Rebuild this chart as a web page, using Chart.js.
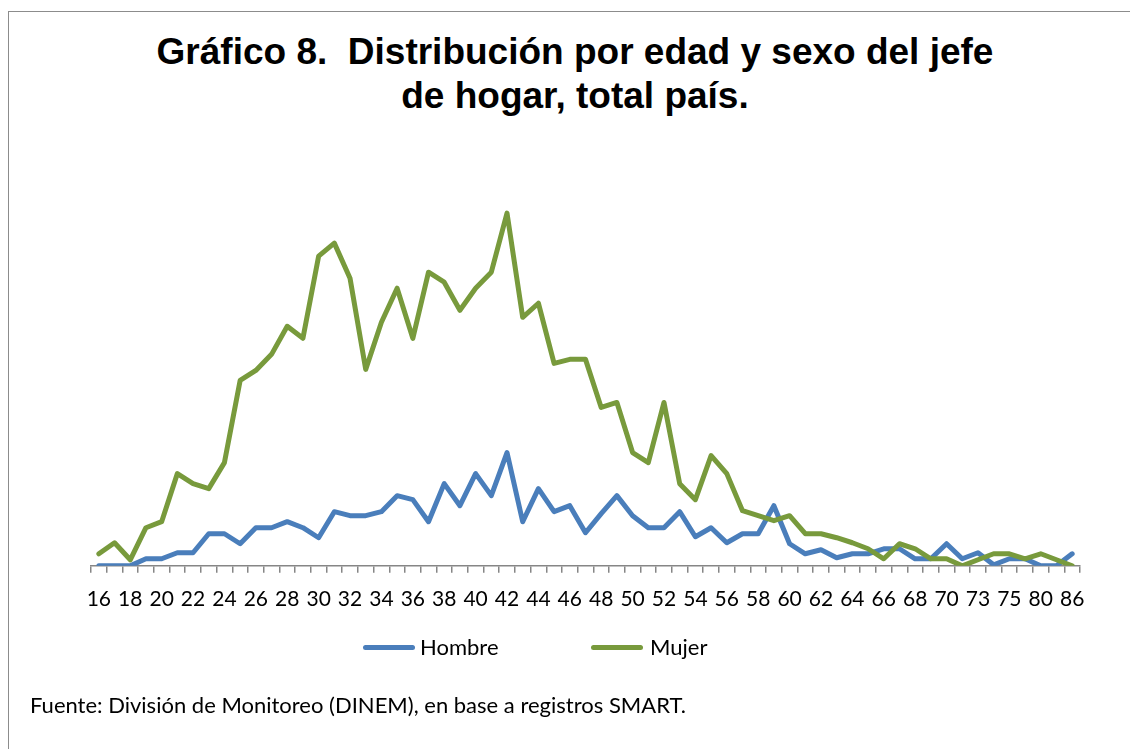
<!DOCTYPE html>
<html>
<head>
<meta charset="utf-8">
<script src="https://cdn.jsdelivr.net/npm/chart.js@4.4.1/dist/chart.umd.min.js"></script>
<style>
    body { margin: 0; background: #fff; width: 1130px; height: 749px; overflow: hidden; position: relative; }
    .frame { position: absolute; left: 8px; top: 11px; width: 1140px; height: 760px; border: 1.5px solid #8c8c8c; }
    .title { position: absolute; left: 0; top: 30px; width: 1150px; text-align: center; white-space: pre;
             font: bold 37px "Liberation Sans", Arial, sans-serif; line-height: 44px; color: #000; }
    #chart-box { position: absolute; left: 0; top: 0; width: 1130px; height: 749px; }
    .legend { position: absolute; top: 634px; left: 0; width: 1130px; height: 26px; font: 22px Lato, sans-serif; color: #000; }
    .legend span { position: absolute; top: 0; line-height: 26px; }
    .legend i { position: absolute; top: 11px; height: 5px; border-radius: 3px; }
    .source { position: absolute; left: 30px; top: 691px; font: 22px Lato, sans-serif; color: #000; }
</style>
</head>
<body>
<div class="frame"></div>
<div class="title">Gráfico 8.  Distribución por edad y sexo del jefe
de hogar, total país.</div>
<div id="chart-box"><canvas id="ageChart"></canvas></div>
<div class="legend" id="legend"></div>
<div class="source">Fuente: División de Monitoreo (DINEM), en base a registros SMART.</div>

<script>
// edades del jefe de hogar (eje X)
const ages = [16, 17, 18, 19, 20, 21, 22, 23, 24, 25, 26, 27, 28, 29, 30, 31, 32, 33, 34, 35,
    36, 37, 38, 39, 40, 41, 42, 43, 44, 45, 46, 47, 48, 49, 50, 51, 52, 53, 54, 55,
    56, 57, 58, 59, 60, 61, 62, 63, 64, 65, 66, 67, 68, 69, 70, 71, 73, 74, 75, 78, 80, 83, 86];

// valores (sin eje Y visible)
const hombre = [0, 0, 0, 7, 7, 13, 13, 32, 32, 22, 38, 38, 44, 38, 28, 54, 50, 50, 54, 70,
    66, 44, 82, 60, 92, 70, 113, 44, 77, 54, 60, 33, 52, 70, 50, 38, 38, 54, 29, 38,
    23, 32, 32, 60, 22, 12, 16, 8, 12, 12, 17, 17, 7, 7, 22, 7, 13, 1, 7, 7, 0, 0, 12];

const mujer = [12, 23, 6, 38, 44, 92, 82, 77, 103, 185, 195, 211, 239, 227, 309, 322, 287, 196, 243, 277,
    227, 293, 283, 255, 277, 293, 352, 248, 262, 202, 206, 206, 158, 163, 113, 103, 163, 82, 66, 110,
    92, 55, 50, 45, 50, 32, 32, 28, 23, 17, 7, 22, 17, 7, 7, 0, 6, 12, 12, 7, 12, 6, 0];

const seriesNames = ['Hombre', 'Mujer'];
const seriesColors = ['#4a7ebb', '#789a3c'];

// leyenda (posiciones como en el original)
const legendPos = [{ line: 363, text: 420 }, { line: 591, text: 650 }];
const legendEl = document.getElementById('legend');
seriesNames.forEach((name, i) => {
    legendEl.innerHTML += `<i style="left:${legendPos[i].line}px;width:52px;background:${seriesColors[i]}"></i>` +
        `<span style="left:${legendPos[i].text}px">${name}</span>`;
});

const ctx = document.getElementById('ageChart').getContext('2d');
new Chart(ctx, {
    type: 'line',
    data: {
        labels: ages,
        datasets: [
            { label: seriesNames[0], data: hombre, borderColor: seriesColors[0], backgroundColor: seriesColors[0], order: 1 },
            { label: seriesNames[1], data: mujer, borderColor: seriesColors[1], backgroundColor: seriesColors[1], order: 0 }
        ]
    },
    options: {
        responsive: true,
        maintainAspectRatio: false,
        animation: false,
        layout: { padding: { left: 91, right: 50, top: 180, bottom: 123 } },
        elements: {
            line: { borderWidth: 5, tension: 0, borderJoinStyle: 'round', borderCapStyle: 'round' },
            point: { radius: 0, hoverRadius: 0 }
        },
        plugins: {
            legend: { display: false },
            title: { display: false },
            tooltip: { enabled: false }
        },
        scales: {
            x: {
                offset: true,
                grid: { offset: true, drawOnChartArea: false, drawTicks: true, tickLength: 7, color: '#868686', lineWidth: 1.5 },
                border: { color: '#868686', width: 1.5 },
                ticks: {
                    autoSkip: false,
                    maxRotation: 0,
                    padding: 14,
                    color: '#000',
                    font: { family: 'Lato', size: 21 },
                    callback: (val, i) => i % 2 === 0 ? ages[i] : ''
                }
            },
            y: { display: false, min: 0, max: 385 }
        }
    }
});
</script>
</body>
</html>
